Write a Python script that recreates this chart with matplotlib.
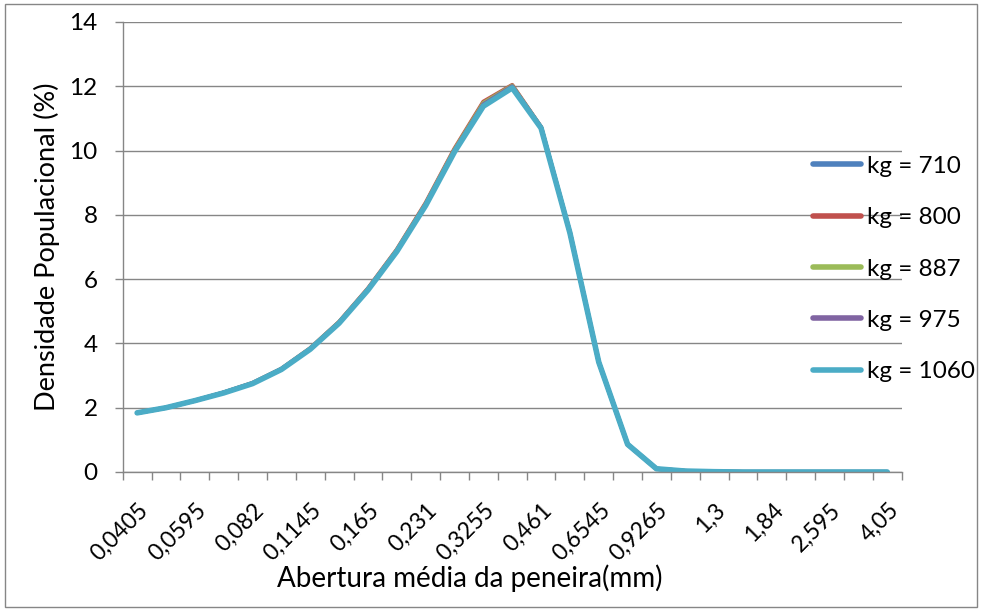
import matplotlib
matplotlib.use("Agg")
import matplotlib.pyplot as plt
from matplotlib.patches import Rectangle
from matplotlib.transforms import ScaledTranslation

plt.rcParams['font.family'] = ['Lato', 'DejaVu Sans']

# Abertura média das peneiras (mm)
aberturas = [0.0405, 0.0495, 0.0595, 0.069, 0.082, 0.097, 0.1145, 0.136, 0.165,
             0.1955, 0.231, 0.2745, 0.3255, 0.389, 0.461, 0.55, 0.6545, 0.781,
             0.9265, 1.095, 1.3, 1.545, 1.84, 2.18, 2.595, 3.09, 4.05]

kg_710 = [1.84, 2.00, 2.22, 2.47, 2.76, 3.20, 3.83, 4.65, 5.68, 6.88, 8.32, 10.0,
          11.45, 12.0, 10.72, 7.45, 3.42, 0.86, 0.10, 0.03, 0.01, 0, 0, 0, 0, 0, 0]
kg_800 = [1.84, 2.00, 2.22, 2.47, 2.77, 3.21, 3.85, 4.67, 5.71, 6.92, 8.37, 10.06,
          11.52, 12.04, 10.73, 7.45, 3.42, 0.86, 0.10, 0.03, 0.01, 0, 0, 0, 0, 0, 0]
kg_887 = [1.84, 2.00, 2.22, 2.47, 2.76, 3.20, 3.84, 4.66, 5.69, 6.90, 8.34, 10.03,
          11.48, 12.02, 10.72, 7.45, 3.42, 0.86, 0.10, 0.03, 0.01, 0, 0, 0, 0, 0, 0]
kg_975 = [1.84, 2.00, 2.22, 2.47, 2.76, 3.20, 3.83, 4.65, 5.68, 6.88, 8.32, 10.0,
          11.44, 12.0, 10.72, 7.45, 3.42, 0.86, 0.10, 0.03, 0.01, 0, 0, 0, 0, 0, 0]
kg_1060 = [1.84, 2.00, 2.22, 2.46, 2.75, 3.19, 3.82, 4.63, 5.66, 6.86, 8.29, 9.96,
           11.38, 11.95, 10.70, 7.44, 3.42, 0.86, 0.10, 0.03, 0.01, 0, 0, 0, 0, 0, 0]

series = [("kg = 710", kg_710, "#4F81BD"),
          ("kg = 800", kg_800, "#C0504D"),
          ("kg = 887", kg_887, "#9BBB59"),
          ("kg = 975", kg_975, "#8064A2"),
          ("kg = 1060", kg_1060, "#4BACC6")]

W, H = 982, 610
fig = plt.figure(figsize=(W / 100, H / 100), dpi=100)
fig.patches.append(Rectangle((5 / W, 3 / H), 972 / W, 603 / H, transform=fig.transFigure,
                             fill=False, edgecolor="#868686", linewidth=1))

ax = fig.add_axes([122.7 / W, (H - 472) / H, 779 / W, 450 / H])
grid_col = "#868686"

x = list(range(len(aberturas)))
for nome, vals, cor in series:
    lw = 4.0 if nome == "kg = 1060" else 3.0
    ax.plot(x, vals, color=cor, linewidth=lw, label=nome, solid_capstyle="round")

ax.set_xlim(-0.5, len(aberturas) - 0.5)
ax.set_ylim(0, 14)
ax.set_yticks(range(0, 15, 2))
ax.yaxis.grid(True, color=grid_col, linewidth=1)
ax.set_axisbelow(True)

# marcas entre categorias, rótulos em categorias alternadas
ax.set_xticks([i - 0.5 for i in range(len(aberturas) + 1)])
ax.set_xticklabels([])
ax.set_xticks(x[::2], minor=True)
ax.set_xticklabels([f"{v:g}".replace(".", ",") for v in aberturas[::2]], minor=True,
                   rotation=45, ha="right", va="center", rotation_mode="anchor")
ax.tick_params(axis="x", which="minor", length=0, pad=25, labelsize=16.5)
ax.tick_params(axis="x", which="major", length=6, color=grid_col, width=1)
ax.tick_params(axis="y", length=6, color=grid_col, width=1, labelsize=17.5, pad=12)
desloc = ScaledTranslation(8 / 100, 0, fig.dpi_scale_trans)
for lbl in ax.get_xticklabels(minor=True):
    lbl.set_transform(lbl.get_transform() + desloc)

for s in ["top", "right"]:
    ax.spines[s].set_visible(False)
for s in ["left", "bottom"]:
    ax.spines[s].set_color(grid_col)
    ax.spines[s].set_linewidth(1)

ax.set_xlabel("Abertura média da peneira(mm)", fontsize=20, va="center")
ax.xaxis.set_label_coords(0.445, -0.2356)
ax.set_ylabel("Densidade Populacional (%)", fontsize=19.5, va="center")
ax.yaxis.set_label_coords(-0.0972, 0.5)

leg = ax.legend(loc="center left", bbox_to_anchor=(690 / 779, 0.451), frameon=False,
                fontsize=17.5, handlelength=2.0, handletextpad=0.25, labelspacing=1.25,
                borderaxespad=0, borderpad=0)
for h in leg.get_lines():
    h.set_linewidth(4)

fig.savefig("out.png", dpi=100)
